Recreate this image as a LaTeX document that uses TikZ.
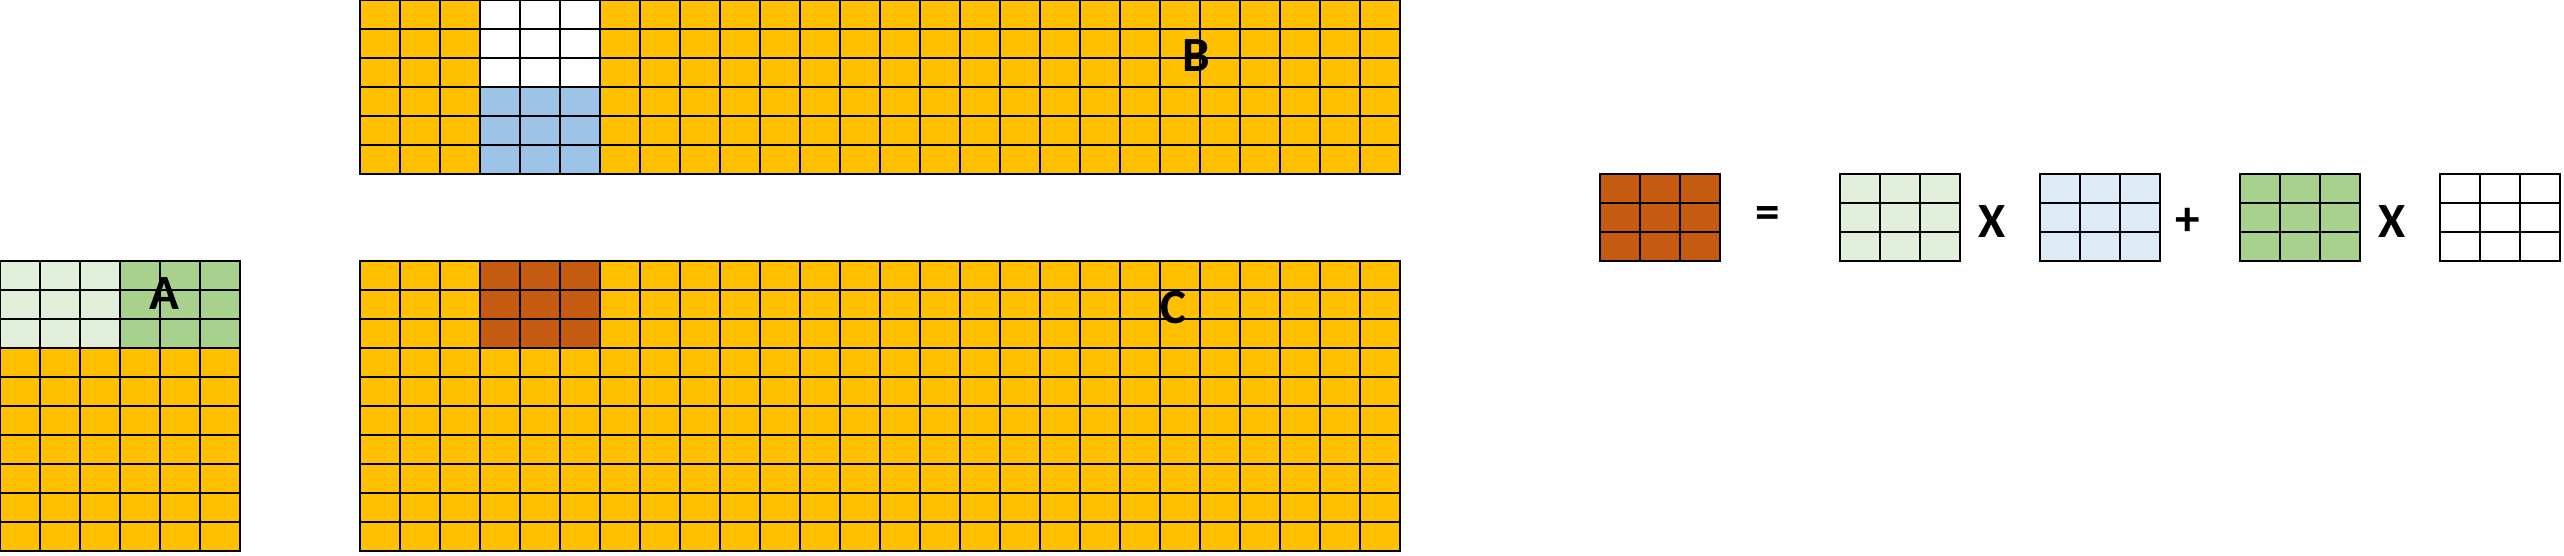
\documentclass[tikz,border=0pt]{standalone}
\usepackage{fontspec}
\setmainfont{Carlito}
\usepackage{tikz}

\definecolor{gold}{HTML}{FFC000}
\definecolor{rust}{HTML}{C55A11}
\definecolor{ltgreen}{HTML}{E2EFDA}
\definecolor{midgreen}{HTML}{A9D18E}
\definecolor{ltblue}{HTML}{DDEBF7}
\definecolor{midblue}{HTML}{9DC3E6}

\begin{document}
\begin{tikzpicture}[x=0.4cm,y=-0.29cm,
  cell/.style={draw=black,line width=0.5pt},
  lbl/.style={font=\fontsize{14}{14}\selectfont\bfseries}]
\useasboundingbox (0,0) rectangle (64.1,19.17);

% matrix A
\fill[gold] (0,9) rectangle (6,19);
\fill[ltgreen] (0,9) rectangle (3,12);
\fill[midgreen] (3,9) rectangle (6,12);
\foreach \i in {0,...,5} \foreach \j in {9,...,18}
  \draw[cell] (\i,\j) rectangle ++(1,1);
\node[lbl] (labA) at (4.12,10.12) {A};

% matrix B
\fill[gold] (9,0) rectangle (35,6);
\fill[white] (12,0) rectangle (15,3);
\fill[midblue] (12,3) rectangle (15,6);
\foreach \i in {9,...,34} \foreach \j in {0,...,5}
  \draw[cell] (\i,\j) rectangle ++(1,1);
\node[lbl] (labB) at (29.9,1.93) {B};

% matrix C
\fill[gold] (9,9) rectangle (35,19);
\fill[rust] (12,9) rectangle (15,12);
\foreach \i in {9,...,34} \foreach \j in {9,...,18}
  \draw[cell] (\i,\j) rectangle ++(1,1);
\node[lbl] (labC) at (29.35,10.62) {C};

% C block = A x B + A x B
\foreach \x/\c in {40/rust,46/ltgreen,51/ltblue,56/midgreen,61/white} {
  \fill[\c] (\x,6) rectangle ++(3,3);
  \foreach \i in {0,1,2} \foreach \j in {6,7,8}
    \draw[cell] (\x+\i,\j) rectangle ++(1,1);
}
\node[lbl] (eq) at (44.2,7.5) {=};
\node[lbl] (times1) at (49.8,7.64) {X};
\node[lbl] (plus) at (54.7,7.64) {+};
\node[lbl] (times2) at (59.8,7.64) {X};
\end{tikzpicture}
\end{document}
